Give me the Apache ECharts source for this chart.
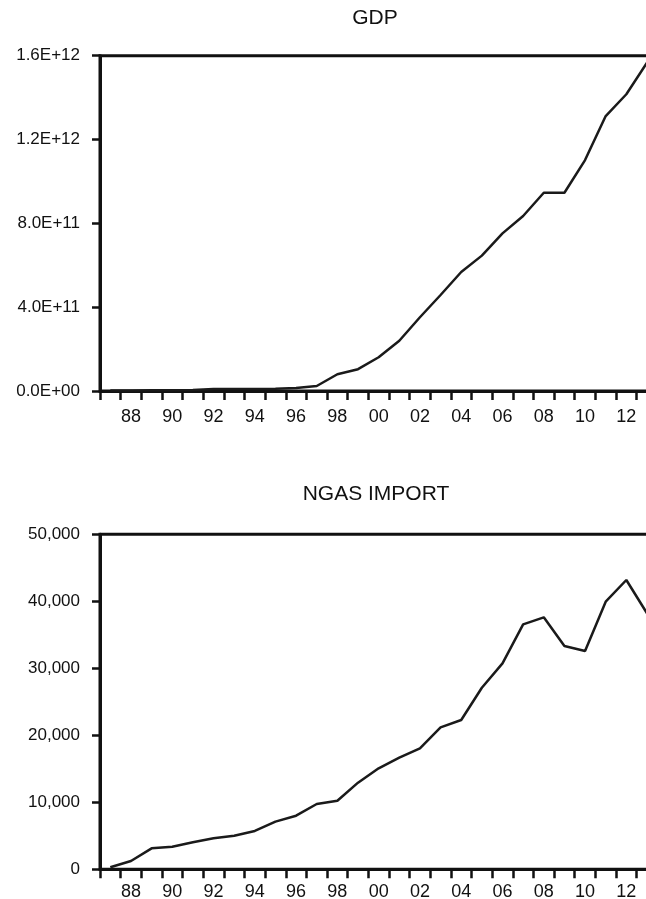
<!DOCTYPE html>
<html>
<head>
<meta charset="utf-8">
<script src="https://cdn.jsdelivr.net/npm/echarts@6/dist/echarts.min.js"></script>
<style>
  html, body { margin: 0; padding: 0; background: #fff; }
  #chart { width: 646px; height: 899px; }
</style>
</head>
<body>
<div id="chart"></div>
<script>
// Annual observations, 1987-2013 (two-digit year labels)
var years = ['87','88','89','90','91','92','93','94','95','96','97','98','99',
             '00','01','02','03','04','05','06','07','08','09','10','11','12','13'];

var gdp = [2e9, 2e9, 3e9, 3e9, 5e9, 1.0e10, 1.0e10, 1.0e10, 1.1e10, 1.4e10,
           2.4e10, 8.0e10, 1.04e11, 1.61e11, 2.40e11, 3.52e11, 4.58e11, 5.68e11,
           6.46e11, 7.52e11, 8.35e11, 9.46e11, 9.46e11, 1.102e12, 1.312e12,
           1.416e12, 1.567e12];

var ngasImport = [300, 1240, 3130, 3370, 4030, 4620, 5020, 5720, 7110, 8000,
                  9750, 10240, 12930, 15070, 16660, 18060, 21190, 22280, 27100,
                  30740, 36560, 37610, 33330, 32580, 39940, 43180, 38210];

var gdpTicks = [0, 4e11, 8e11, 1.2e12, 1.6e12];
var gdpTickLabels = ['0.0E+00', '4.0E+11', '8.0E+11', '1.2E+12', '1.6E+12'];
var ngasTicks = [0, 10000, 20000, 30000, 40000, 50000];
var ngasTickLabels = ['0', '10,000', '20,000', '30,000', '40,000', '50,000'];

var FONT = 'Liberation Sans, Arial, sans-serif';
var INK = '#111';

function tickLabel(ticks, labels) {
  return function (v) {
    for (var i = 0; i < ticks.length; i++) {
      if (Math.abs(ticks[i] - v) < 1e-6 * Math.max(1, Math.abs(v))) return labels[i];
    }
    return '';
  };
}

function xAxisFor(gridIndex, labelMargin) {
  return {
    type: 'category',
    gridIndex: gridIndex,
    data: years,
    boundaryGap: true,
    axisLine: { show: true, lineStyle: { color: INK, width: 3 } },
    axisTick: { show: true, interval: 0, inside: false, length: 9,
                lineStyle: { color: INK, width: 2.5 } },
    axisLabel: {
      interval: function (index) { return index % 2 === 1; },
      margin: labelMargin,
      color: INK, fontFamily: FONT, fontSize: 18
    },
    splitLine: { show: false }
  };
}

function yAxisFor(gridIndex, max, interval, ticks, labels) {
  return {
    type: 'value',
    gridIndex: gridIndex,
    min: 0, max: max, interval: interval,
    axisLine: { show: true, lineStyle: { color: INK, width: 3 } },
    axisTick: { show: true, inside: false, length: 8,
                lineStyle: { color: INK, width: 2.5 } },
    axisLabel: {
      margin: 20, color: INK, fontFamily: FONT, fontSize: 17,
      formatter: tickLabel(ticks, labels)
    },
    splitLine: { show: false }
  };
}

var chart = echarts.init(document.getElementById('chart'), null, { renderer: 'canvas' });

chart.setOption({
  animation: false,
  backgroundColor: '#fff',
  title: [
    { text: 'GDP', left: 375, top: 8, textAlign: 'center', padding: 0,
      textStyle: { fontFamily: FONT, fontSize: 21, fontWeight: 'normal', color: INK } },
    { text: 'NGAS IMPORT', left: 376, top: 484, textAlign: 'center', padding: 0,
      textStyle: { fontFamily: FONT, fontSize: 21, fontWeight: 'normal', color: INK } }
  ],
  // The plot area runs a little past the right edge of the canvas,
  // so the frame's right side and the last year's band are cut off.
  grid: [
    { left: 100, width: 557.3, top: 55.7, height: 335.3, show: true,
      outerBoundsMode: 'none', containLabel: false,
      borderColor: INK, borderWidth: 3, backgroundColor: 'transparent' },
    { left: 100, width: 557.3, top: 534.3, height: 335, show: true,
      outerBoundsMode: 'none', containLabel: false,
      borderColor: INK, borderWidth: 3, backgroundColor: 'transparent' }
  ],
  xAxis: [ xAxisFor(0, 17), xAxisFor(1, 14) ],
  yAxis: [
    yAxisFor(0, 1.6e12, 4e11, gdpTicks, gdpTickLabels),
    yAxisFor(1, 50000, 10000, ngasTicks, ngasTickLabels)
  ],
  series: [
    { name: 'GDP', type: 'line', xAxisIndex: 0, yAxisIndex: 0, data: gdp,
      showSymbol: false, symbol: 'none', clip: false,
      lineStyle: { color: '#1a1a1a', width: 2.5 } },
    { name: 'NGAS IMPORT', type: 'line', xAxisIndex: 1, yAxisIndex: 1, data: ngasImport,
      showSymbol: false, symbol: 'none', clip: false,
      lineStyle: { color: '#1a1a1a', width: 2.5 } }
  ]
});
</script>
</body>
</html>
